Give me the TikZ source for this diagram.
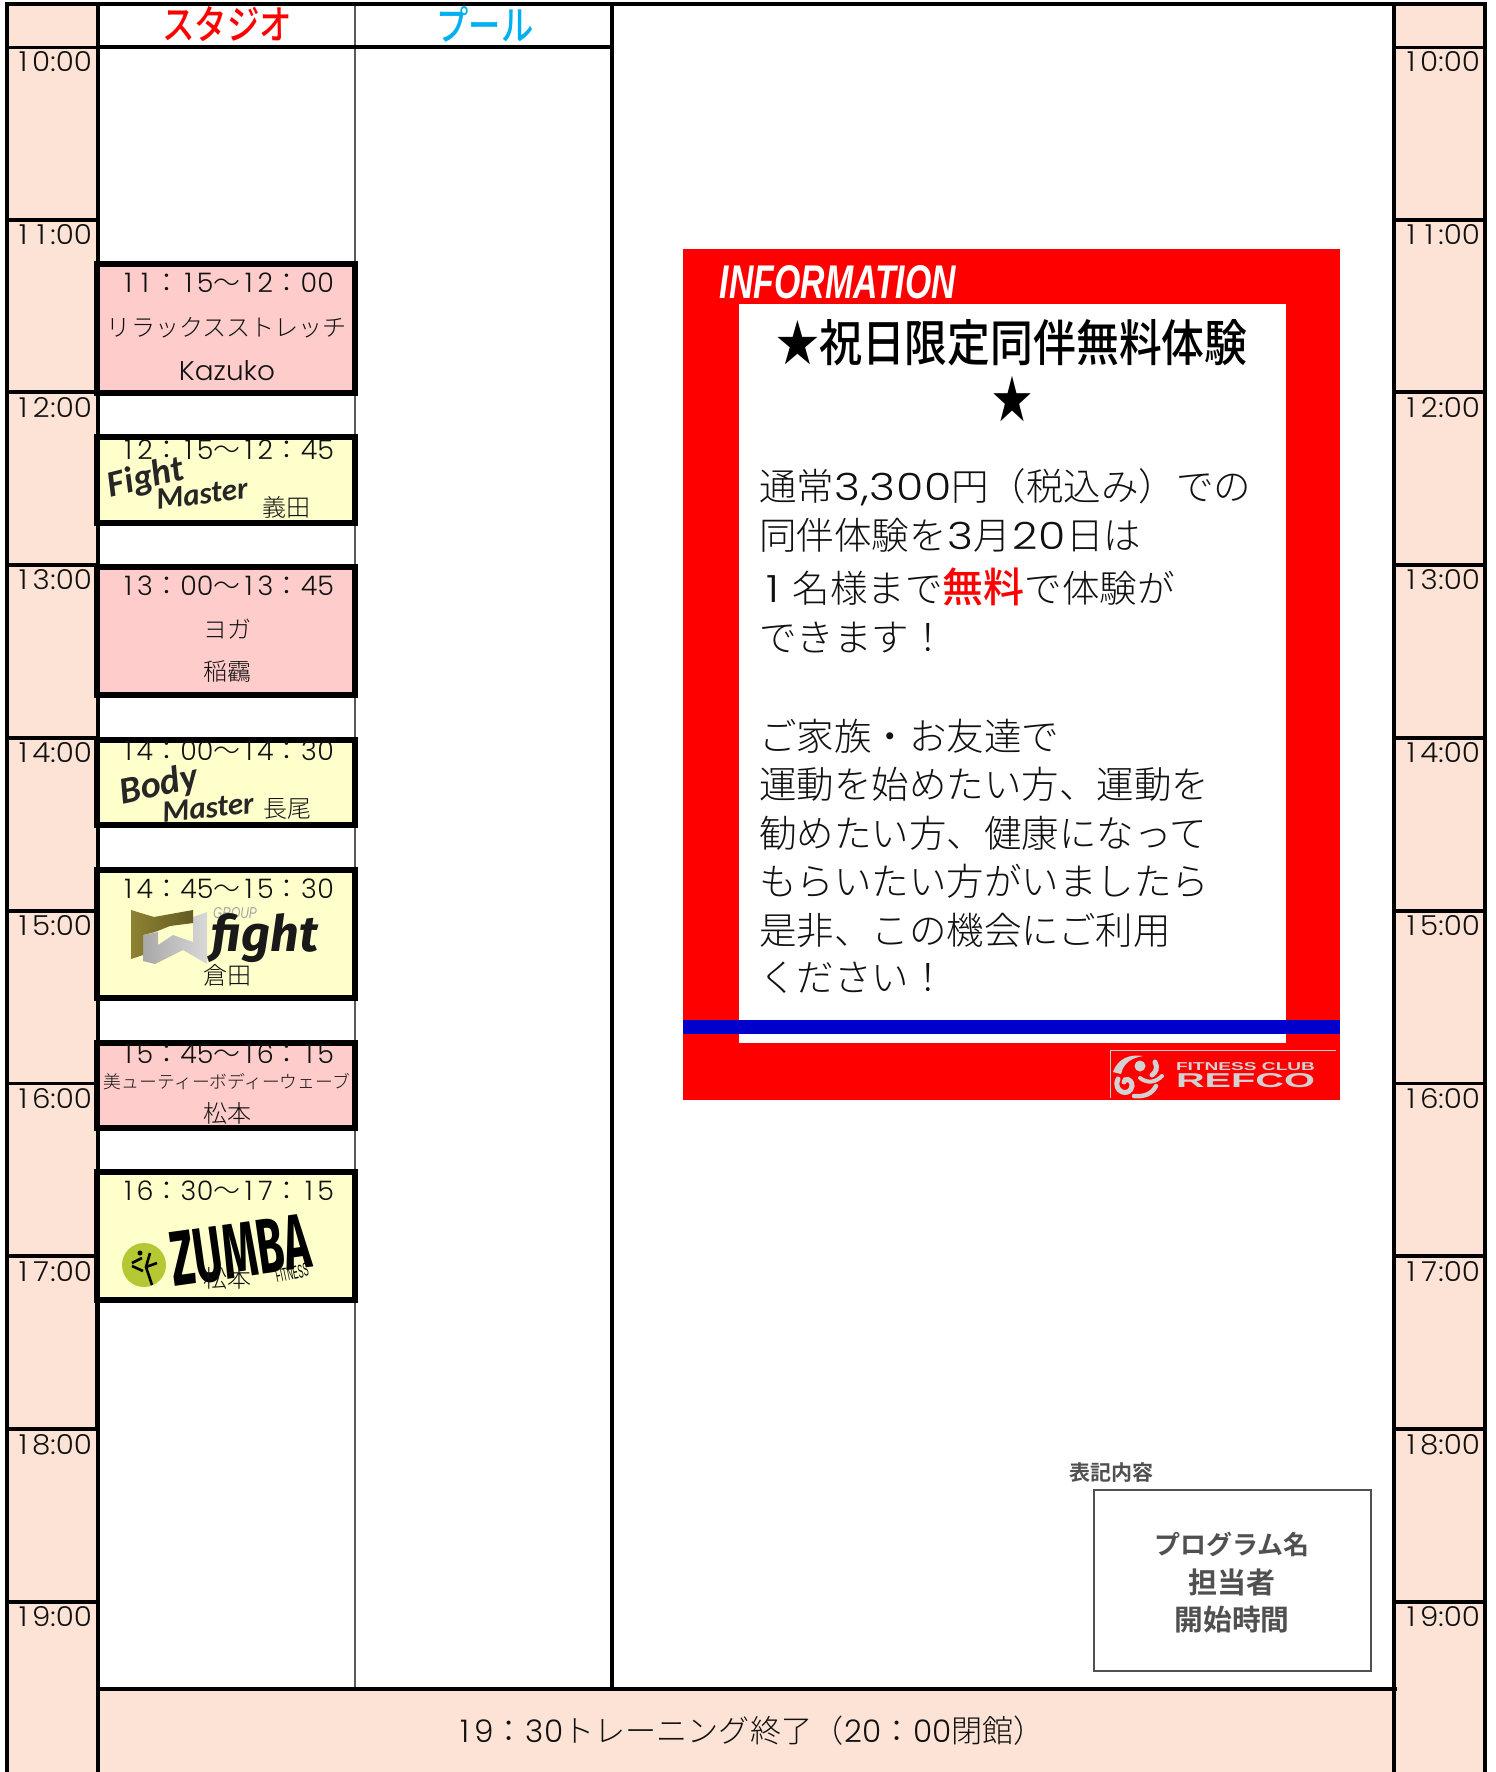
\documentclass[tikz,border=0pt]{standalone}
\usepackage{fontspec}
\usepackage{graphicx}
\setmainfont{Noto Sans CJK JP}
\newfontfamily\boldjp{Noto Sans CJK JP}[UprightFont={* Bold}]
\newfontfamily\medjp{Noto Sans CJK JP}[UprightFont={* Medium}]
\newfontfamily\lightjp{Noto Sans CJK JP}[UprightFont={* Light}]
\newfontfamily\numfont{Poppins}[UprightFont={* Light}]
\newfontfamily\infofont{Liberation Sans}[UprightFont={* Bold Italic}]
\newfontfamily\scriptlogo{Carlito}[UprightFont={* Bold Italic}]
\newfontfamily\heavylogo{Fira Sans}[UprightFont={* Bold Italic}]
\newfontfamily\heavyup{Fira Sans}[UprightFont={* Bold}]
\newfontfamily\widelogo{Liberation Sans}[UprightFont={* Bold}]
\newfontfamily\plainsans{Liberation Sans}
\definecolor{peach}{HTML}{FDE3D6}
\definecolor{pinkb}{HTML}{FFCCCC}
\definecolor{yellowb}{HTML}{FFFFCC}
\definecolor{inkc}{HTML}{111111}
\definecolor{legendc}{HTML}{505050}
\definecolor{logogrey}{HTML}{D2D2D2}
\definecolor{zgreen}{HTML}{B5C733}
\definecolor{mgold}{HTML}{8E8232}
\definecolor{msilver}{HTML}{A8A8A8}
\newcommand{\fitbox}[3]{\resizebox{#1pt}{#2pt}{#3}}
% digits set at one fixed width, so that a 1 is as wide as a 0
\def\tabd#1{\ifx#1\relax\else\makebox[0.62em]{#1}\expandafter\tabd\fi}
\newcommand{\tnum}[1]{\expandafter\tabd#1\relax}
\newcommand{\dg}[1]{{\numfont\tnum{#1}}}
\newcommand{\bdg}[1]{\scalebox{1.18}[1]{\numfont #1}}
\tikzset{
  x=1pt,y=-1pt,
  every node/.style={inner sep=0pt,outer sep=0pt,text=inkc},
  frame/.style={draw=black,line width=3.6pt},
  thin rule/.style={draw=black!65,line width=1.4pt},
  timelab/.style={anchor=east},
  pinkbox/.style={draw=black,line width=6pt,fill=pinkb,minimum width=258pt,anchor=north west},
  yellowbox/.style={draw=black,line width=6pt,fill=yellowb,minimum width=258pt,anchor=north west},
  bodytext/.style={anchor=west,font=\lightjp\fontsize{37.5pt}{40pt}\selectfont},
  name text/.style={font=\lightjp\fontsize{24pt}{24pt}\selectfont},
  legend text/.style={text=legendc},
}
\newcommand{\tlab}[4]{\node[timelab] (#1) at (#2,#3) {\fitbox{78}{20}{\numfont\tnum{#4}:00}};}
\newcommand{\slot}[4]{\resizebox{214pt}{!}{\lightjp\fontsize{27pt}{27pt}\selectfont\dg{#1}：\dg{#2}〜\dg{#3}：\dg{#4}}}
\begin{document}
\begin{tikzpicture}
\useasboundingbox (0,0) rectangle (1496,1772);
\fill[white] (0,0) rectangle (1496,1772);
% side columns and footer
\fill[peach] (7,4) rectangle (98,1772);
\fill[peach] (1394,4) rectangle (1485,1772);
\fill[peach] (98,1689) rectangle (1394,1772);
% grid
\draw[thin rule] (355,4) -- (355,1689);
\draw[frame] (612,4) -- (612,1689);
\draw[frame] (98,47) -- (612,47);
\draw[frame] (7,2) -- (7,1772);
\draw[frame] (98,2) -- (98,1772);
\draw[line width=5pt] (97.5,1256) -- (97.5,1431);
\draw[frame] (1394,2) -- (1394,1772);
\draw[frame] (1485,2) -- (1485,1772);
\draw[frame] (5,4) -- (1487,4);
\draw[frame] (98,1689) -- (1397,1689);
\foreach \yy in {47.5,220,392,565,738,911,1083.5,1256,1429,1602}{
  \draw[frame] (7,\yy) -- (98,\yy);
  \draw[frame] (1394,\yy) -- (1485,\yy);
}
% headers
\node[text=red] (hstudio) at (227,24) {\fitbox{130}{33}{\medjp スタジオ}};
\node[text={rgb,255:red,0;green,176;blue,240}] (hpool) at (485,24) {\fitbox{97}{34}{\medjp プール}};
% time labels
\foreach \nm/\yy/\lbl in {a/62/10,b/235/11,c/408/12,d/580/13,e/753/14,f/926/15,g/1099/16,h/1272/17,i/1445/18,j/1617/19}{
  \tlab{l\nm}{92}{\yy}{\lbl}
  \tlab{r\nm}{1480}{\yy}{\lbl}
}
% class boxes
\node[pinkbox,minimum height=129pt] (b1) at (97,264) {};
\node[yellowbox,minimum height=86pt] (b2) at (97,437) {};
\node[pinkbox,minimum height=128pt] (b3) at (97,567) {};
\node[yellowbox,minimum height=85pt] (b4) at (97,740) {};
\node[yellowbox,minimum height=128pt] (b5) at (97,870) {};
\node[pinkbox,minimum height=85pt] (b6) at (97,1043) {};
\node[yellowbox,minimum height=128pt] (b7) at (97,1172) {};
% box 1
\node (t1) at (227,283) {\slot{11}{15}{12}{00}};
\node (n1) at (227,328) {\resizebox{240pt}{!}{\lightjp リラックスストレッチ}};
\node (p1) at (227,371) {\fitbox{96}{20}{\numfont Kazuko}};
% box 2
\node (t2) at (227,450) {\slot{12}{15}{12}{45}};
\node[rotate=14] (lg2a) at (146,479) {\scriptlogo\fontsize{37pt}{37pt}\selectfont\textcolor{black!85}{Fight}};
\node[rotate=7] (lg2b) at (202,494) {\scriptlogo\fontsize{31pt}{31pt}\selectfont\textcolor{black!85}{Master}};
\node[name text] (p2) at (286,507) {義田};
% box 3
\node (t3) at (227,586) {\slot{13}{00}{13}{45}};
\node[name text] (n3) at (227,629) {ヨガ};
\node[name text] (p3) at (227,672) {稲靏};
% box 4
\node (t4) at (227,751) {\slot{14}{00}{14}{30}};
\begin{scope}
\clip (100,742) rectangle (352,824);
\node[rotate=12] (lg4a) at (159,786) {\scriptlogo\fontsize{38pt}{38pt}\selectfont\textcolor{black!85}{Body}};
\node[rotate=6] (lg4b) at (208,808) {\scriptlogo\fontsize{31pt}{31pt}\selectfont\textcolor{black!85}{Master}};
\end{scope}
\node[name text] (p4) at (287,809) {長尾};
% box 5
\node (t5) at (227,889) {\slot{14}{45}{15}{30}};
\shade[left color=msilver,right color=msilver!45!white] (143,935) -- (143,961) -- (155,964) -- (183,950) -- (207,964) -- (207,912) -- (193,917) -- (193,942) -- (173,935) -- (158,945) -- (158,932) -- cycle;
\shade[left color=mgold,right color=mgold!70!black] (131,910) -- (154,917) -- (193,910) -- (193,923) -- (170,926) -- (155,932) -- (143,935) -- (143,955) -- (131,959) -- cycle;
\node[text=black!35] (lg5a) at (235,913) {\fitbox{44}{11}{\plainsans\itshape GROUP}};
\node[text=black!90] (lg5b) at (265,938) {\fitbox{106}{38}{\heavylogo fight}};
\node[name text] (p5) at (227,975) {倉田};
% box 6
\node (t6) at (227,1054) {\slot{15}{45}{16}{15}};
\node (n6) at (227,1082) {\resizebox{246pt}{!}{\lightjp 美ューティーボディーウェーブ}};
\node[name text] (p6) at (227,1113) {松本};
% box 7
\node (t7) at (227,1191) {\slot{16}{30}{17}{15}};
\node[circle,fill=zgreen,minimum size=44pt] (zc) at (144,1265) {};
\draw[line width=2.6pt,black] (132,1263) -- (142,1258) (132,1266) -- (143,1271) (150,1253) -- (146,1267) -- (152,1285) (146,1267) -- (157,1263);
\fill[black] (140,1253) circle (2.5pt);
\node[rotate=8,text=black] (zw) at (240,1251) {\fitbox{140}{54}{\heavyup ZUMBA}};
\node[rotate=12,text=black] (zf) at (292,1273) {\fitbox{33}{13}{\plainsans FITNESS}};
\node[name text] (p7) at (227,1278) {松本};
% information panel
\fill[red] (683,249) rectangle (1340,1100);
\fill[white] (739,304) rectangle (1286,1043);
\fill[blue!80!black] (683,1020) rectangle (1340,1033.5);
\node[text=white] (info) at (838,282) {\fitbox{236}{33}{\infofont INFORMATION}};
\node[text=black] (it1) at (1012,343) {\fitbox{471}{42}{\medjp ★祝日限定同伴無料体験}};
\node[text=black] (it2) at (1012,399) {\fitbox{40}{42}{★}};
\node[bodytext] (l1) at (759,487) {通常\bdg{\tnum{3},\tnum{300}}円（税込み）での};
\node[bodytext] (l2) at (759,535) {同伴体験を\bdg{\tnum{3}}月\bdg{\tnum{20}}日は};
\node[bodytext] (l3) at (759,587) {\bdg{\tnum{1}}\,名様まで\textcolor{red}{\medjp\fontsize{41pt}{41pt}\selectfont 無料}で体験が};
\node[bodytext] (l4) at (759,638) {できます！};
\node[bodytext] (l5) at (759,736) {ご家族・お友達で};
\node[bodytext] (l6) at (759,784) {運動を始めたい方、運動を};
\node[bodytext] (l7) at (759,833) {勧めたい方、健康になって};
\node[bodytext] (l8) at (759,881) {もらいたい方がいましたら};
\node[bodytext] (l9) at (759,930) {是非、この機会にご利用};
\node[bodytext] (l10) at (759,978) {ください！};
% logo
\draw[logogrey,line width=1pt] (1110,1098) -- (1110,1050.5) -- (1336,1050.5);
\fill[logogrey] (1113,1072) .. controls (1118,1058) and (1130,1054) .. (1143,1056) .. controls (1132,1058) and (1124,1062) .. (1121,1074) -- cycle;
\draw[logogrey,line width=5pt,line cap=round] (1118,1079) .. controls (1112,1092) and (1130,1098) .. (1132,1086) .. controls (1132,1078) and (1124,1078) .. (1124,1082);
\draw[logogrey,line width=5pt,line cap=round] (1155,1062) .. controls (1158,1068) and (1156,1072) .. (1152,1075);
\draw[logogrey,line width=4.5pt,line cap=round] (1156,1086) .. controls (1152,1094) and (1144,1097) .. (1134,1096);
\fill[logogrey] (1140,1066) circle (5.5pt);
\draw[logogrey,line width=4pt,line cap=round] (1140,1078) .. controls (1148,1084) and (1156,1082) .. (1162,1076);
\node[text=logogrey] (lgf) at (1245.5,1067) {\fitbox{139}{8}{\widelogo FITNESS CLUB}};
\node[text=logogrey] (lgr) at (1245.5,1081) {\fitbox{139}{14}{\widelogo REFCO}};
% legend
\node[legend text] (lt) at (1111,1473) {\boldjp\fontsize{21pt}{21pt}\selectfont 表記内容};
\node[draw=legendc,line width=2.5pt,minimum width=277pt,minimum height=181pt] (lb) at (1232.5,1580.5) {};
\node[legend text] (lb1) at (1232,1544) {\resizebox{155pt}{!}{\boldjp プログラム名}};
\node[legend text] (lb2) at (1232,1582) {\resizebox{87pt}{!}{\boldjp 担当者}};
\node[legend text] (lb3) at (1232,1620) {\resizebox{115pt}{!}{\boldjp 開始時間}};
% footer
\node[anchor=west] (ft) at (455,1731) {\resizebox{590pt}{!}{\lightjp\fontsize{27pt}{27pt}\selectfont\dg{19}：\dg{30}トレーニング終了（\dg{20}：\dg{00}閉館）}};
\end{tikzpicture}
\end{document}
